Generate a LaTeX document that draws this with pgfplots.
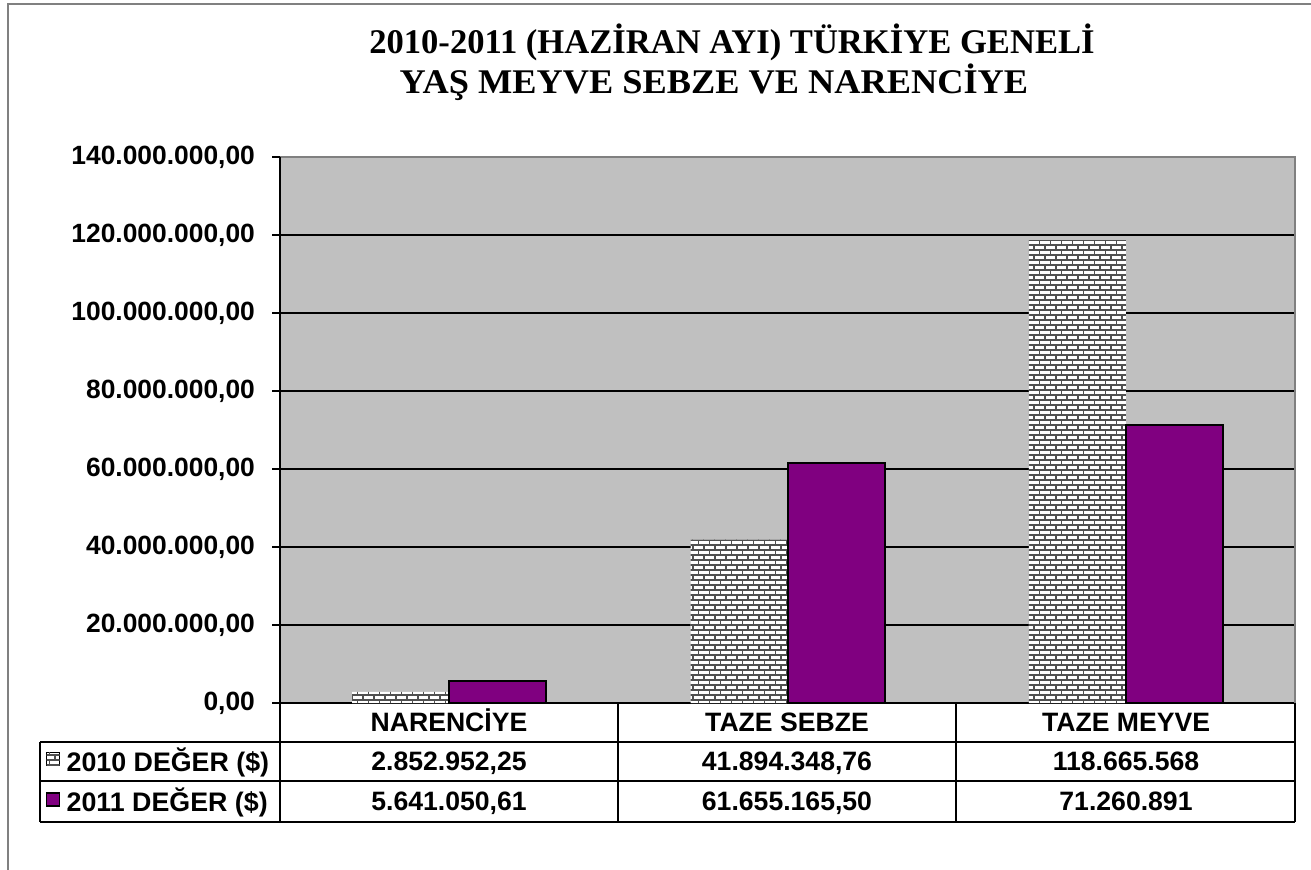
\documentclass[border=0pt]{standalone}
\usepackage{pgfplots}
\pgfplotsset{compat=1.18}
\usepackage{fontspec}
\setmainfont{Liberation Sans}
\newfontfamily\titlefont{Liberation Serif}
\usetikzlibrary{patterns}
\definecolor{plotgray}{HTML}{C0C0C0}
\definecolor{purp}{HTML}{800080}
\definecolor{mortar}{HTML}{505050}
\definecolor{framegray}{HTML}{808080}

\pgfdeclarepatternformonly{mybricks}{\pgfqpoint{-0.5pt}{-0.5pt}}{\pgfqpoint{6pt}{5.5pt}}{\pgfqpoint{5.5pt}{5pt}}{%
  \pgfsetlinewidth{0.6pt}%
  \pgfpathmoveto{\pgfqpoint{0pt}{0pt}}\pgfpathlineto{\pgfqpoint{5.5pt}{0pt}}%
  \pgfpathmoveto{\pgfqpoint{0pt}{2.5pt}}\pgfpathlineto{\pgfqpoint{5.5pt}{2.5pt}}%
  \pgfpathmoveto{\pgfqpoint{0pt}{0pt}}\pgfpathlineto{\pgfqpoint{0pt}{2.5pt}}%
  \pgfpathmoveto{\pgfqpoint{2.75pt}{2.5pt}}\pgfpathlineto{\pgfqpoint{2.75pt}{5pt}}%
  \pgfusepath{stroke}}

\newcommand{\tfont}{\bfseries\fontsize{13.3}{15}\selectfont}
\newcommand{\kfont}{\bfseries\fontsize{13.2}{15}\selectfont}
\newcommand{\lfont}{\bfseries\fontsize{13.4}{15}\selectfont}

\begin{document}
\begin{tikzpicture}
\useasboundingbox (0,0) rectangle (655.5pt,-435pt);
\fill[white] (0,0) rectangle (655.5pt,-435pt);
\begin{scope}[x=0.5pt,y=-0.5pt]
  \draw[framegray, line width=1.2pt] (8,880) -- (8,4) -- (1320,4);
  \node[font=\titlefont\bfseries\fontsize{17.3}{19}\selectfont, anchor=base, inner sep=0pt] at (732,54) {2010-2011 (HAZİRAN AYI) TÜRKİYE GENELİ};
  \node[font=\titlefont\bfseries\fontsize{17.3}{19}\selectfont, anchor=base, inner sep=0pt] at (714,94) {\scalebox{1.05}[1]{YAŞ MEYVE SEBZE VE NARENCİYE}};
\end{scope}

\begin{axis}[
  at={(140pt,-351.5pt)}, anchor=south west,
  scale only axis, width=507.5pt, height=273pt,
  xmin=-0.5, xmax=2.5, ymin=0, ymax=140000000,
  ybar=0pt, bar width=48.5pt,
  axis background/.style={fill=plotgray},
  axis x line*=bottom, axis y line*=left,
  axis line style={black, line width=0.8pt, -},
  xtick=\empty,
  ytick={0,20000000,40000000,60000000,80000000,100000000,120000000,140000000},
  yticklabels={{0,00},{20.000.000,00},{40.000.000,00},{60.000.000,00},{80.000.000,00},{100.000.000,00},{120.000.000,00},{140.000.000,00}},
  scaled y ticks=false,
  yticklabel style={font=\kfont, xshift=-5pt},
  tick align=outside, major tick length=4pt, ytick pos=left,
  tick style={black, line width=0.6pt},
  ymajorgrids, major grid style={black, line width=0.7pt},
  legend style={at={(rel axis cs:-0.231,-0.0894)}, anchor=north west, draw=none, fill=none,
    inner sep=0pt, row sep=7.5pt, font=\lfont,
    nodes={inner ysep=0pt, inner xsep=3.25pt, text height=9.5pt, text depth=3pt}},
  legend cell align=left,
  legend image code/.code={\draw[#1, line width=0.6pt] (0pt,-0.5pt) rectangle (6.5pt,6pt);},
  clip=false,
]
\addplot[draw=none, fill=white, postaction={pattern=mybricks, pattern color=mortar}]
  coordinates {(0,2852952.25) (1,41894348.76) (2,118665568)};
\addlegendentry{2010 DEĞER (\$)}
\addplot[draw=black, line width=1pt, fill=purp]
  coordinates {(0,5641050.61) (1,61655165.50) (2,71260891)};
\addlegendentry{2011 DEĞER (\$)}
\draw[framegray, line width=1pt] (rel axis cs:0,1) -- (rel axis cs:1,1) -- (rel axis cs:1,0);
\draw[black, line width=0.8pt] (rel axis cs:0,0) -- (rel axis cs:0,1);
\end{axis}

\begin{scope}[x=0.5pt,y=-0.5pt]
  \draw[black, line width=0.6pt]
    (280,703) -- (280,822)
    (618,703) -- (618,822)
    (956,703) -- (956,822)
    (1295,703) -- (1295,822)
    (40,742) -- (1295,742)
    (40,781) -- (1295,781)
    (40,822) -- (1295,822)
    (40,742) -- (40,822);
  \foreach \x/\t in {449/NARENCİYE, 787/TAZE SEBZE, 1126/TAZE MEYVE}
    \node[font=\tfont, anchor=base, inner sep=0pt] at (\x,731.8) {\t};
  \foreach \x/\t in {449/2.852.952{,}25, 787/41.894.348{,}76, 1126/118.665.568}
    \node[font=\tfont, anchor=base, inner sep=0pt] at (\x,770.8) {\t};
  \foreach \x/\t in {449/5.641.050{,}61, 787/61.655.165{,}50, 1126/71.260.891}
    \node[font=\tfont, anchor=base, inner sep=0pt] at (\x,810.8) {\t};
\end{scope}
\end{tikzpicture}
\end{document}
